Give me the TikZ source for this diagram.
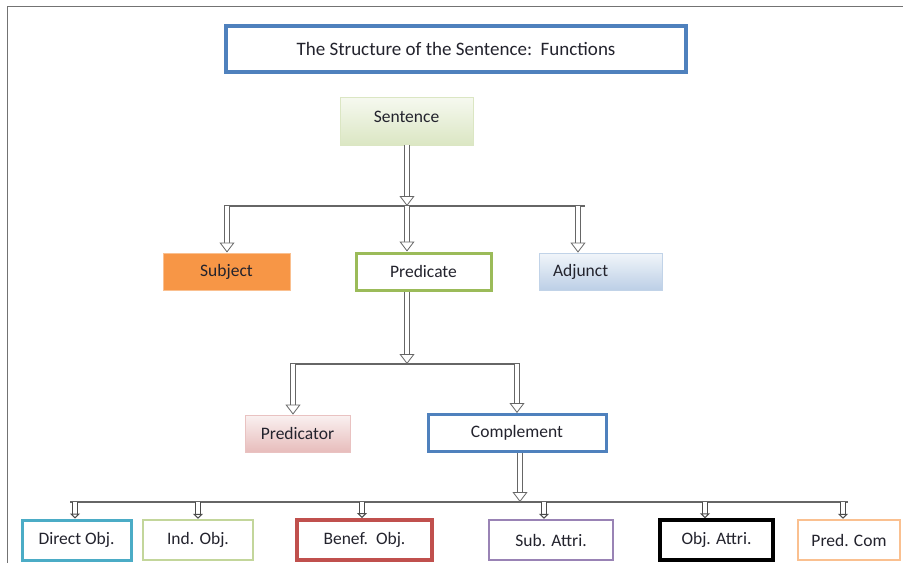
\documentclass[tikz,border=0pt]{standalone}
\usepackage{fontspec}
\setmainfont{Carlito}
\usetikzlibrary{arrows.meta}
\definecolor{offblue}{RGB}{79,129,189}
\definecolor{offgreen}{RGB}{155,187,89}
\definecolor{offlime}{RGB}{195,214,155}
\definecolor{offorange}{RGB}{247,150,70}
\definecolor{offpeach}{RGB}{250,192,144}
\definecolor{offteal}{RGB}{75,172,198}
\definecolor{offred}{RGB}{192,80,77}
\definecolor{offpurple}{RGB}{128,100,162}
\definecolor{offtext}{RGB}{35,35,45}

\begin{document}
\begin{tikzpicture}[x=1pt,y=-1pt,
  every node/.style={font=\fontsize{17.5}{20}\selectfont, text=offtext, inner sep=0pt},
  box/.style={draw, rectangle, minimum height=37pt},
  lowbox/.style={box, minimum height=40pt, fill=white},
  bar/.style={draw=black!60, line width=1.2pt},
  dbl/.style={draw=black!60, line width=0.8pt, double=white, double distance=4.5pt,
    -{Triangle[open, fill=white, length=10pt, width=15pt]}},
  sdbl/.style={draw=black!70, line width=1pt, double=white, double distance=3.5pt,
    -{Triangle[open, fill=white, length=5pt, width=10pt]}}]%
\useasboundingbox (0,0) rectangle (903,563);%
\draw[black!55, line width=1pt] (903,6) -- (7,6) -- (7,563);%
% title
\node [box, draw=offblue, line width=3.5pt, fill=white, minimum width=460pt, minimum height=46pt, font=\fontsize{19}{22}\selectfont] (title) at (456,49) {The Structure of the Sentence:\ \ Functions};%
% upper levels
\node [box, draw=offlime!60, line width=0.6pt, top color=offlime!15, bottom color=offlime!60, minimum width=133pt, minimum height=48pt] (sent) at (406.5,121) {\raisebox{9pt}{Sentence}};%
\node [box, draw=offpeach, line width=1pt, fill=offorange, minimum width=127pt] (subj) at (226.5,271.5) {Subject};%
\node [box, draw=offgreen, line width=3pt, fill=white, minimum width=135pt] (pred) at (423.5,271.5) {Predicate};%
\node [box, draw=offblue!35, line width=0.8pt, top color=offblue!8, bottom color=offblue!38, minimum width=123pt, text width=95pt, inner xsep=14pt, align=left] (adj) at (600.5,271.5) {Adjunct};%
\node [box, draw=offred!35, line width=0.8pt, top color=offred!8, bottom color=offred!38, minimum width=105pt] (predtor) at (297.5,433.5) {Predicator};%
\node [box, draw=offblue, line width=3pt, fill=white, minimum width=178pt] (comp) at (517,433) {Complement};%
% lowest level
\node [lowbox, draw=offteal, line width=3pt, minimum width=109pt] (dobj) at (76.5,540) {Direct Obj.};%
\node [lowbox, draw=offlime, line width=2.5pt, minimum width=110pt] (iobj) at (198,540) {Ind. Obj.};%
\node [lowbox, draw=offred, line width=4pt, minimum width=135pt] (bobj) at (364.5,540) {Benef.\ \ Obj.};%
\node [lowbox, draw=offpurple!80, line width=2.5pt, minimum width=124pt] (satt) at (551,540) {Sub. Attri.};%
\node [lowbox, draw=black, line width=3.5pt, minimum width=113pt] (oatt) at (716.5,540) {Obj. Attri.};%
\node [lowbox, draw=offpeach, line width=2.5pt, minimum width=102pt] (pcom) at (849,540) {Pred. Com};%
% junctions
\coordinate (j1) at (227,206);%
\coordinate (j2) at (407,206);%
\coordinate (j3) at (578,206);%
\coordinate (k1) at (293,364);%
\coordinate (k2) at (407,364);%
\coordinate (k3) at (517,364);%
\coordinate (m0) at (520,502);%
\coordinate (m1) at (75,502);%
\coordinate (m2) at (198,502);%
\coordinate (m3) at (362,502);%
\coordinate (m4) at (544,502);%
\coordinate (m5) at (705,502);%
\coordinate (m6) at (843,502);%
% bars
\draw[bar] ([xshift=-3pt]j1) -- ([xshift=7pt]j3);%
\draw[bar] ([xshift=-3pt]k1) -- ([xshift=3pt]k3);%
\draw[bar] ([xshift=-5pt]m1) -- ([xshift=5pt]m6);%
% arrows
\draw[dbl] (j2 |- sent.south) -- (j2);%
\draw[dbl] (j1) -- (j1 |- subj.north);%
\draw[dbl] (j2) -- (j2 |- pred.north);%
\draw[dbl] (j3) -- (j3 |- adj.north);%
\draw[dbl] (k2 |- pred.south) -- (k2);%
\draw[dbl] (k1) -- (k1 |- predtor.north);%
\draw[dbl] (k3) -- (k3 |- comp.north);%
\draw[dbl] (m0 |- comp.south) -- (m0);%
\draw[sdbl] (m1) -- (m1 |- dobj.north);%
\draw[sdbl] (m2) -- (m2 |- iobj.north);%
\draw[sdbl] (m3) -- (m3 |- bobj.north);%
\draw[sdbl] (m4) -- (m4 |- satt.north);%
\draw[sdbl] (m5) -- (m5 |- oatt.north);%
\draw[sdbl] (m6) -- (m6 |- pcom.north);%
\end{tikzpicture}
\end{document}
